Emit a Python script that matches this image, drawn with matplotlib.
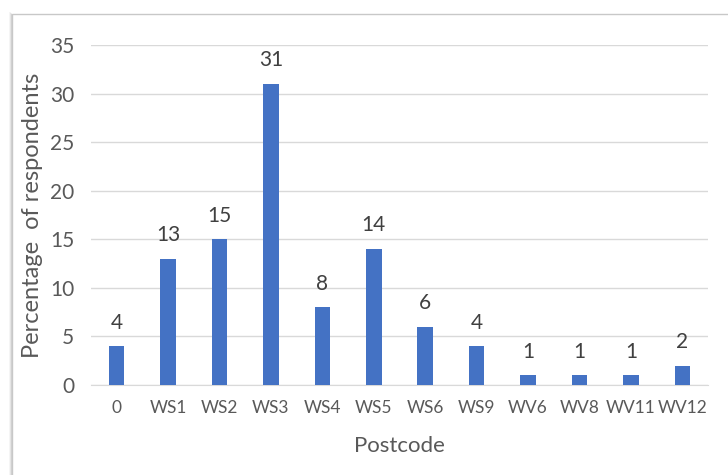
import matplotlib
matplotlib.use("Agg")
import matplotlib.pyplot as plt
from matplotlib.patches import Rectangle

categories = ["0", "WS1", "WS2", "WS3", "WS4", "WS5", "WS6", "WS9", "WV6", "WV8", "WV11", "WV12"]
values = [4, 13, 15, 31, 8, 14, 6, 4, 1, 1, 1, 2]
yticks = [0, 5, 10, 15, 20, 25, 30, 35]

plt.rcParams['font.family'] = ['Lato', 'DejaVu Sans']
gray = "#595959"

fig = plt.figure(figsize=(7.28, 4.75), dpi=100)
fig.patch.set_facecolor("white")

# chart frame with soft shadow
W, H = 728, 475
for i, a in enumerate([0.25, 0.15, 0.08]):
    fig.add_artist(Rectangle(((12 - i - 1) / W, 0), 1.5 / W, (H - 14 + i) / H,
                             transform=fig.transFigure, color="#888888", alpha=a, lw=0))
fig.add_artist(Rectangle((12 / W, -0.01), 1 - 12 / W + 0.01, (H - 14) / H + 0.01,
                         transform=fig.transFigure, facecolor="none",
                         edgecolor="#c8c8c8", lw=1))

ax = fig.add_axes([91 / W, 1 - 385 / H, (708 - 91) / W, (385 - 45) / H])
x = range(len(categories))
bars = ax.bar(x, values, width=0.3, color="#4472C4", zorder=3)
for xi, v in zip(x, values):
    ax.annotate(str(v), (xi, v), xytext=(0, 17), textcoords="offset points",
                ha="center", va="center", fontsize=15, color="#404040")

ax.set_xlim(-0.5, len(categories) - 0.5)
ax.set_ylim(0, 35)
ax.set_yticks(yticks)
ax.set_xticks(list(x))
ax.set_xticklabels(categories)
ax.grid(axis="y", color="#d9d9d9", lw=1, zorder=0)
for s in ["top", "right", "left"]:
    ax.spines[s].set_visible(False)
ax.spines["bottom"].set_color("#d9d9d9")
ax.tick_params(axis="both", length=0, labelcolor=gray)
ax.tick_params(axis="x", pad=11, labelsize=12.5)
ax.tick_params(axis="y", pad=12, labelsize=15)
ax.set_xlabel("Postcode", fontsize=16, color=gray, labelpad=14)
ax.set_ylabel("Percentage  of respondents", fontsize=17, color=gray, labelpad=5)

fig.savefig("out.png", dpi=100, facecolor="white")
